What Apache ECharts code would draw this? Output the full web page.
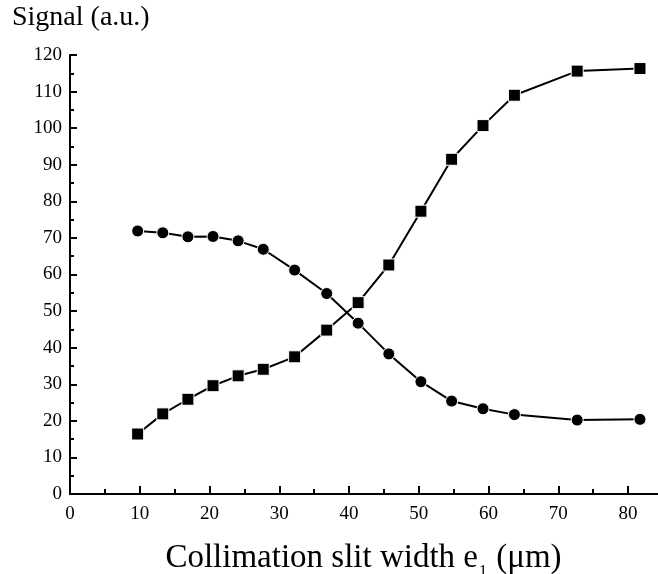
<!DOCTYPE html>
<html>
<head>
<meta charset="utf-8">
<script src="https://cdn.jsdelivr.net/npm/echarts@6/dist/echarts.min.js"></script>
<style>
html,body{margin:0;padding:0;background:#fff;}
#chart{width:658px;height:574px;}
</style>
</head>
<body>
<div id="chart"></div>
<script>
// Data
var slitWidth = [9.7, 13.3, 16.9, 20.5, 24.1, 27.7, 32.2, 36.8, 41.3, 45.7, 50.3, 54.7, 59.2, 63.7, 72.7, 81.7];
var squareSignal = [16.4, 21.9, 25.9, 29.6, 32.3, 34.1, 37.5, 44.8, 52.3, 62.6, 77.3, 91.5, 100.7, 109.0, 115.6, 116.3];
var circleSignal = [71.9, 71.4, 70.3, 70.4, 69.2, 66.9, 61.2, 54.8, 46.7, 38.3, 30.7, 25.4, 23.3, 21.7, 20.2, 20.4];
var yTitle = 'Signal (a.u.)';

function pairs(xs, ys) {
  return xs.map(function (x, i) { return [x, ys[i]]; });
}

var FONT = "'Liberation Serif', 'Times New Roman', serif";
var chart = echarts.init(document.getElementById('chart'), null, {renderer: 'canvas'});
chart.setOption({
  animation: false,
  backgroundColor: '#fff',
  title: {
    text: yTitle,
    left: 7,
    top: -1,
    textStyle: {fontFamily: FONT, fontSize: 28, fontWeight: 'normal', color: '#000'}
  },
  grid: {left: 70, right: -5, top: 55, bottom: 80, containLabel: false, outerBoundsMode: 'none'},
  xAxis: {
    type: 'value',
    min: 0, max: 85, interval: 10,
    splitLine: {show: false},
    axisLine: {show: true, onZero: false, lineStyle: {color: '#000', width: 2}},
    axisTick: {show: true, inside: true, length: 8, lineStyle: {color: '#000', width: 2}},
    minorTick: {show: true, splitNumber: 2, length: 5, lineStyle: {color: '#000', width: 2}},
    axisLabel: {fontFamily: FONT, fontSize: 19, color: '#000', margin: 11, showMaxLabel: false},
    name: '{t|Collimation slit width e}{s|1}{t| (μm)}',
    nameLocation: 'middle',
    nameGap: 40,
    nameTextStyle: {
      padding: [0, 6, 0, 0],
      rich: {
        t: {fontFamily: FONT, fontSize: 33, color: '#000', lineHeight: 48},
        s: {fontFamily: FONT, fontSize: 16, color: '#000', lineHeight: 16, padding: [27, 1, 0, 1]}
      }
    }
  },
  yAxis: {
    type: 'value',
    min: 0, max: 120, interval: 10,
    splitLine: {show: false},
    axisLine: {show: true, onZero: false, lineStyle: {color: '#000', width: 2}},
    axisTick: {show: true, inside: true, length: 7, lineStyle: {color: '#000', width: 2}},
    minorTick: {show: true, splitNumber: 2, length: 4, lineStyle: {color: '#000', width: 2}},
    axisLabel: {fontFamily: FONT, fontSize: 19, color: '#000', margin: 8}
  },
  series: [
    {
      type: 'line',
      data: pairs(slitWidth, squareSignal),
      symbol: 'rect',
      symbolSize: 12,
      showAllSymbol: true,
      lineStyle: {color: '#000', width: 2},
      itemStyle: {color: '#000', borderColor: '#fff', borderWidth: 1}
    },
    {
      type: 'line',
      data: pairs(slitWidth, circleSignal),
      symbol: 'circle',
      symbolSize: 12,
      showAllSymbol: true,
      lineStyle: {color: '#000', width: 2},
      itemStyle: {color: '#000', borderColor: '#fff', borderWidth: 1}
    }
  ]
});
</script>
</body>
</html>
